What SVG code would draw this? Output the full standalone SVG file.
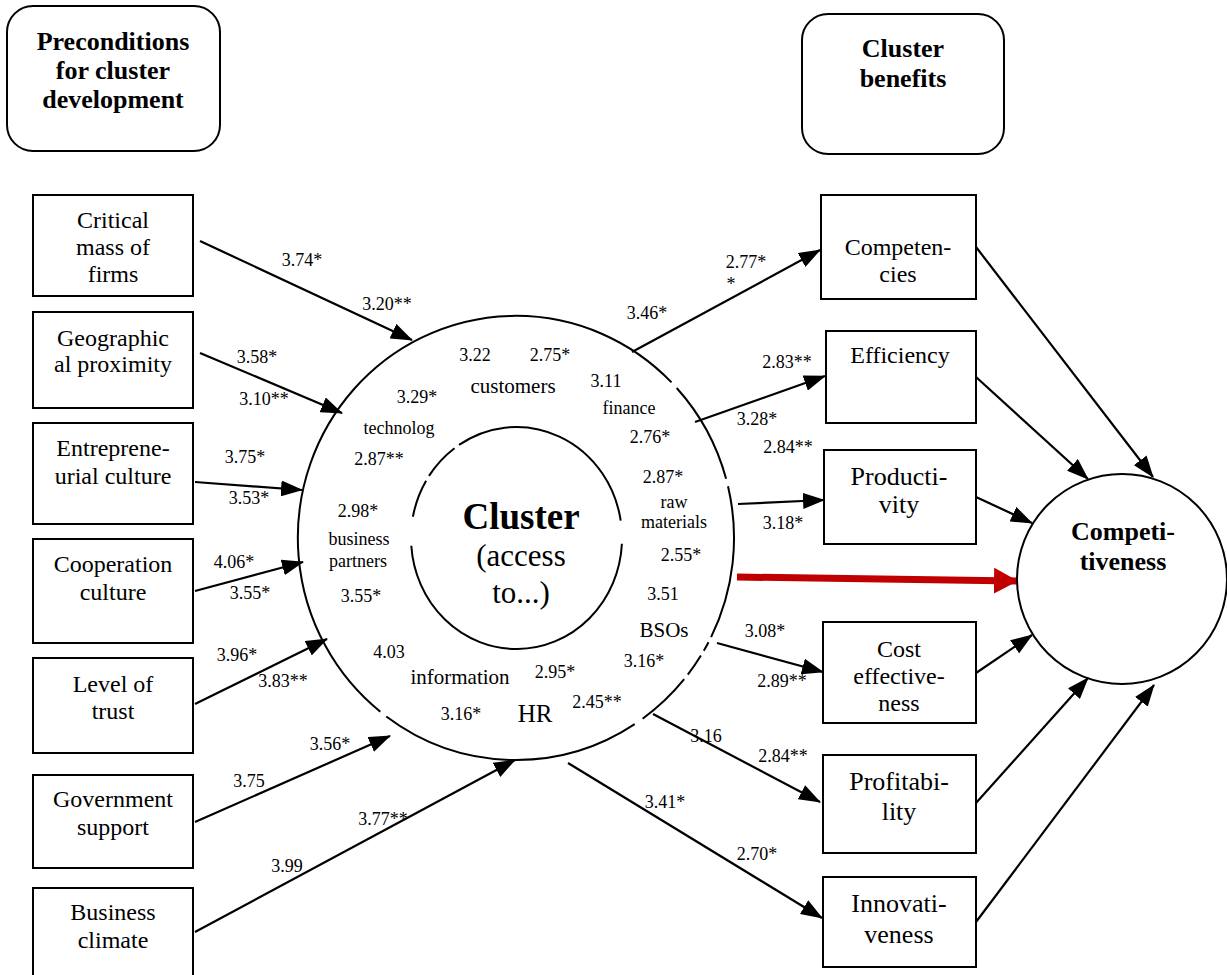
<svg xmlns="http://www.w3.org/2000/svg" width="1227" height="975" viewBox="0 0 1227 975" font-family="'Liberation Serif', 'Times New Roman', serif">
<style>
text{font-family:"Liberation Serif","Times New Roman",serif;fill:#000;text-anchor:middle}
.box{fill:#fff;stroke:#000;stroke-width:2}
.hdr{fill:#fff;stroke:#000;stroke-width:2}
.c{stroke:#000;stroke-width:2.2;fill:none;marker-end:url(#ah)}
.ring{fill:none;stroke:#000;stroke-width:2}
</style>
<defs>
<marker id="ah" markerUnits="userSpaceOnUse" markerWidth="22" markerHeight="16" refX="21" refY="8" orient="auto">
<path d="M0,0 L22,8 L0,16 z" fill="#000"/>
</marker>
<marker id="ahr" markerUnits="userSpaceOnUse" markerWidth="24" markerHeight="26" refX="23" refY="13" orient="auto">
<path d="M0,0 L24,13 L0,26 z" fill="#c00000"/>
</marker>
</defs>
<rect width="1227" height="975" fill="#fff"/>

<g id="hdr-preconditions">
<rect class="hdr" x="7" y="6" width="213" height="145" rx="26"/>
<text x="113" y="50" font-family="'Liberation Serif', serif" font-size="26" font-weight="bold">Preconditions</text>
<text x="113" y="79" font-family="'Liberation Serif', serif" font-size="26" font-weight="bold">for cluster</text>
<text x="113" y="108" font-family="'Liberation Serif', serif" font-size="26" font-weight="bold">development</text>
</g>
<g id="hdr-benefits">
<rect class="hdr" x="802" y="14" width="202" height="140" rx="26"/>
<text x="903" y="57" font-family="'Liberation Serif', serif" font-size="26" font-weight="bold">Cluster</text>
<text x="903" y="87" font-family="'Liberation Serif', serif" font-size="26" font-weight="bold">benefits</text>
</g>

<g id="connectors">
<line class="c" x1="200" y1="241" x2="412" y2="340"/>
<line class="c" x1="200" y1="353" x2="342" y2="413"/>
<line class="c" x1="195" y1="482" x2="302" y2="490"/>
<line class="c" x1="195" y1="591" x2="303" y2="562"/>
<line class="c" x1="195" y1="704" x2="327" y2="639"/>
<line class="c" x1="195" y1="822" x2="390" y2="736"/>
<line class="c" x1="195" y1="932" x2="515" y2="760"/>
<line class="c" x1="632" y1="352" x2="820" y2="250"/>
<line class="c" x1="695" y1="422" x2="825" y2="376"/>
<line class="c" x1="738" y1="504" x2="824" y2="500"/>
<line class="c" x1="717" y1="643" x2="823" y2="672"/>
<line class="c" x1="653" y1="714" x2="820" y2="802"/>
<line class="c" x1="568" y1="763" x2="822" y2="918"/>
<line class="c" x1="976" y1="247" x2="1153" y2="477"/>
<line class="c" x1="976" y1="377" x2="1088" y2="479"/>
<line class="c" x1="976" y1="497" x2="1032" y2="523"/>
<line class="c" x1="976" y1="673" x2="1032" y2="635"/>
<line class="c" x1="976" y1="803" x2="1088" y2="678"/>
<line class="c" x1="976" y1="922" x2="1154" y2="685"/>
<line x1="737" y1="577" x2="1017" y2="581" stroke="#c00000" stroke-width="7" marker-end="url(#ahr)"/>
</g>

<g id="edge-labels">
<text x="302" y="266" font-family="'Liberation Serif', serif" font-size="18">3.74*</text>
<text x="387" y="310" font-family="'Liberation Serif', serif" font-size="18">3.20**</text>
<text x="257" y="363" font-family="'Liberation Serif', serif" font-size="18">3.58*</text>
<text x="264" y="405" font-family="'Liberation Serif', serif" font-size="18">3.10**</text>
<text x="245" y="463" font-family="'Liberation Serif', serif" font-size="18">3.75*</text>
<text x="249" y="504" font-family="'Liberation Serif', serif" font-size="18">3.53*</text>
<text x="234" y="568" font-family="'Liberation Serif', serif" font-size="18">4.06*</text>
<text x="250" y="599" font-family="'Liberation Serif', serif" font-size="18">3.55*</text>
<text x="237" y="661" font-family="'Liberation Serif', serif" font-size="18">3.96*</text>
<text x="283" y="687" font-family="'Liberation Serif', serif" font-size="18">3.83**</text>
<text x="330" y="750" font-family="'Liberation Serif', serif" font-size="18">3.56*</text>
<text x="249" y="787" font-family="'Liberation Serif', serif" font-size="18">3.75</text>
<text x="383" y="825" font-family="'Liberation Serif', serif" font-size="18">3.77**</text>
<text x="287" y="872" font-family="'Liberation Serif', serif" font-size="18">3.99</text>
<text x="647" y="319" font-family="'Liberation Serif', serif" font-size="18">3.46*</text>
<text x="746" y="268" font-family="'Liberation Serif', serif" font-size="18">2.77*</text>
<text x="731" y="290" font-family="'Liberation Serif', serif" font-size="18">*</text>
<text x="787" y="368" font-family="'Liberation Serif', serif" font-size="18">2.83**</text>
<text x="757" y="425" font-family="'Liberation Serif', serif" font-size="18">3.28*</text>
<text x="788" y="453" font-family="'Liberation Serif', serif" font-size="18">2.84**</text>
<text x="783" y="529" font-family="'Liberation Serif', serif" font-size="18">3.18*</text>
<text x="765" y="637" font-family="'Liberation Serif', serif" font-size="18">3.08*</text>
<text x="782" y="687" font-family="'Liberation Serif', serif" font-size="18">2.89**</text>
<text x="706" y="742" font-family="'Liberation Serif', serif" font-size="18">3.16</text>
<text x="783" y="762" font-family="'Liberation Serif', serif" font-size="18">2.84**</text>
<text x="665" y="808" font-family="'Liberation Serif', serif" font-size="18">3.41*</text>
<text x="757" y="860" font-family="'Liberation Serif', serif" font-size="18">2.70*</text>
</g>

<g id="cluster">
<path class="ring" d="M676.7,388.0 A218,222 0 0 1 726.1,478.7 M728.0,486.2 A218,222 0 0 1 711.1,637.1 M708.5,642.2 A218,222 0 0 1 703.8,650.7 M700.9,655.6 A218,222 0 0 1 687.8,674.7 M684.2,679.2 A218,222 0 0 1 642.6,718.7 M634.7,724.2 A218,222 0 0 1 386.3,716.5 M380.3,711.7 A218,222 0 1 1 671.5,382.4"/>
<path class="ring" d="M621.9,543.8 A105.5,111 0 0 1 411.3,545.7 M412.9,516.8 A105.5,111 0 0 1 426.1,480.8 M429.0,475.9 A105.5,111 0 0 1 454.5,448.2 M459.0,444.9 A105.5,111 0 0 1 620.7,520.6"/>
<text x="521" y="529" font-family="'Liberation Serif', serif" font-size="37" font-weight="bold">Cluster</text>
<text x="521" y="566" font-family="'Liberation Serif', serif" font-size="31">(access</text>
<text x="521" y="603" font-family="'Liberation Serif', serif" font-size="31">to...)</text>
<text x="475" y="361" font-family="'Liberation Serif', serif" font-size="18">3.22</text>
<text x="550" y="361" font-family="'Liberation Serif', serif" font-size="18">2.75*</text>
<text x="513" y="393" font-family="'Liberation Serif', serif" font-size="21">customers</text>
<text x="606" y="387" font-family="'Liberation Serif', serif" font-size="18">3.11</text>
<text x="417" y="403" font-family="'Liberation Serif', serif" font-size="18">3.29*</text>
<text x="629" y="414" font-family="'Liberation Serif', serif" font-size="18">finance</text>
<text x="399" y="434" font-family="'Liberation Serif', serif" font-size="18">technolog</text>
<text x="650" y="443" font-family="'Liberation Serif', serif" font-size="18">2.76*</text>
<text x="379" y="465" font-family="'Liberation Serif', serif" font-size="18">2.87**</text>
<text x="663" y="483" font-family="'Liberation Serif', serif" font-size="18">2.87*</text>
<text x="674" y="508" font-family="'Liberation Serif', serif" font-size="18">raw</text>
<text x="674" y="528" font-family="'Liberation Serif', serif" font-size="18">materials</text>
<text x="358" y="517" font-family="'Liberation Serif', serif" font-size="18">2.98*</text>
<text x="359" y="545" font-family="'Liberation Serif', serif" font-size="18">business</text>
<text x="358" y="567" font-family="'Liberation Serif', serif" font-size="18">partners</text>
<text x="681" y="561" font-family="'Liberation Serif', serif" font-size="18">2.55*</text>
<text x="361" y="602" font-family="'Liberation Serif', serif" font-size="18">3.55*</text>
<text x="663" y="600" font-family="'Liberation Serif', serif" font-size="18">3.51</text>
<text x="664" y="637" font-family="'Liberation Serif', serif" font-size="21">BSOs</text>
<text x="389" y="658" font-family="'Liberation Serif', serif" font-size="18">4.03</text>
<text x="460" y="684" font-family="'Liberation Serif', serif" font-size="21">information</text>
<text x="555" y="678" font-family="'Liberation Serif', serif" font-size="18">2.95*</text>
<text x="644" y="667" font-family="'Liberation Serif', serif" font-size="18">3.16*</text>
<text x="461" y="720" font-family="'Liberation Serif', serif" font-size="18">3.16*</text>
<text x="535" y="722" font-family="'Liberation Serif', serif" font-size="25">HR</text>
<text x="597" y="708" font-family="'Liberation Serif', serif" font-size="18">2.45**</text>
</g>

<g id="node-critical-mass">
<rect class="box" x="33" y="195" width="160" height="101"/>
<text x="113" y="228" font-family="'Liberation Serif', serif" font-size="24">Critical</text>
<text x="113" y="255" font-family="'Liberation Serif', serif" font-size="24">mass of</text>
<text x="113" y="282" font-family="'Liberation Serif', serif" font-size="24">firms</text>
</g>
<g id="node-geographical">
<rect class="box" x="33" y="312" width="160" height="96"/>
<text x="113" y="346" font-family="'Liberation Serif', serif" font-size="24">Geographic</text>
<text x="113" y="372" font-family="'Liberation Serif', serif" font-size="24">al proximity</text>
</g>
<g id="node-entrepreneurial">
<rect class="box" x="33" y="423" width="160" height="101"/>
<text x="113" y="456" font-family="'Liberation Serif', serif" font-size="24">Entreprene-</text>
<text x="113" y="484" font-family="'Liberation Serif', serif" font-size="24">urial culture</text>
</g>
<g id="node-cooperation">
<rect class="box" x="33" y="539" width="160" height="104"/>
<text x="113" y="572" font-family="'Liberation Serif', serif" font-size="24">Cooperation</text>
<text x="113" y="600" font-family="'Liberation Serif', serif" font-size="24">culture</text>
</g>
<g id="node-trust">
<rect class="box" x="33" y="658" width="160" height="95"/>
<text x="113" y="692" font-family="'Liberation Serif', serif" font-size="24">Level of</text>
<text x="113" y="719" font-family="'Liberation Serif', serif" font-size="24">trust</text>
</g>
<g id="node-government">
<rect class="box" x="33" y="775" width="160" height="93"/>
<text x="113" y="807" font-family="'Liberation Serif', serif" font-size="24">Government</text>
<text x="113" y="835" font-family="'Liberation Serif', serif" font-size="24">support</text>
</g>
<g id="node-business-climate">
<rect class="box" x="33" y="888" width="160" height="100"/>
<text x="113" y="920" font-family="'Liberation Serif', serif" font-size="24">Business</text>
<text x="113" y="948" font-family="'Liberation Serif', serif" font-size="24">climate</text>
</g>

<g id="node-competencies">
<rect class="box" x="821" y="195" width="155" height="104"/>
<text x="898" y="255" font-family="'Liberation Serif', serif" font-size="24">Competen-</text>
<text x="898" y="282" font-family="'Liberation Serif', serif" font-size="24">cies</text>
</g>
<g id="node-efficiency">
<rect class="box" x="826" y="331" width="150" height="92"/>
<text x="900" y="363" font-family="'Liberation Serif', serif" font-size="24">Efficiency</text>
</g>
<g id="node-productivity">
<rect class="box" x="824" y="450" width="152" height="94"/>
<text x="899" y="485" font-family="'Liberation Serif', serif" font-size="26">Producti-</text>
<text x="899" y="513" font-family="'Liberation Serif', serif" font-size="26">vity</text>
</g>
<g id="node-cost">
<rect class="box" x="823" y="622" width="153" height="101"/>
<text x="899" y="657" font-family="'Liberation Serif', serif" font-size="24">Cost</text>
<text x="899" y="684" font-family="'Liberation Serif', serif" font-size="24">effective-</text>
<text x="899" y="711" font-family="'Liberation Serif', serif" font-size="24">ness</text>
</g>
<g id="node-profitability">
<rect class="box" x="823" y="755" width="153" height="98"/>
<text x="899" y="790" font-family="'Liberation Serif', serif" font-size="26">Profitabi-</text>
<text x="899" y="820" font-family="'Liberation Serif', serif" font-size="26">lity</text>
</g>
<g id="node-innovativeness">
<rect class="box" x="823" y="877" width="153" height="90"/>
<text x="899" y="912" font-family="'Liberation Serif', serif" font-size="26">Innovati-</text>
<text x="899" y="943" font-family="'Liberation Serif', serif" font-size="26">veness</text>
</g>

<g id="node-competitiveness">
<ellipse class="ring" cx="1122" cy="579" rx="105" ry="105"/>
<text x="1123" y="540" font-family="'Liberation Serif', serif" font-size="26" font-weight="bold">Competi-</text>
<text x="1123" y="570" font-family="'Liberation Serif', serif" font-size="26" font-weight="bold">tiveness</text>
</g>
</svg>
